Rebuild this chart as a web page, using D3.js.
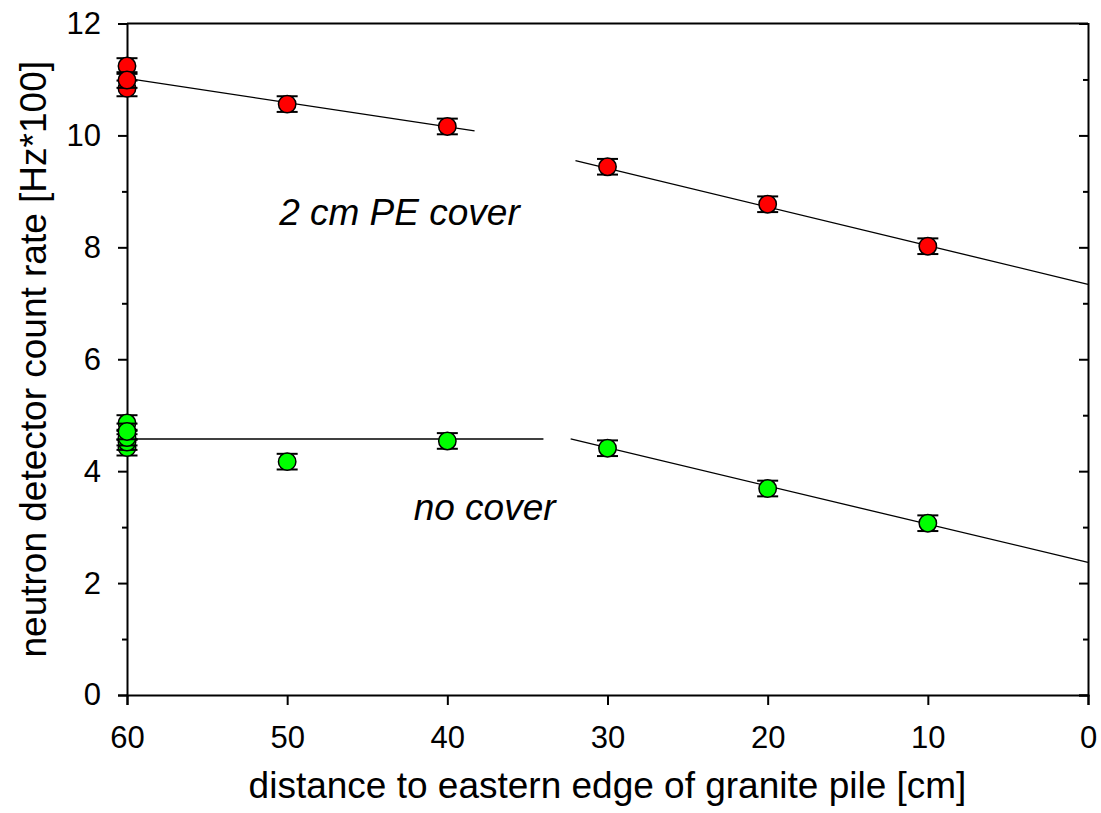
<!DOCTYPE html>
<html>
<head>
<meta charset="utf-8">
<script src="https://cdn.jsdelivr.net/npm/d3@7"></script>
<style>
  body { margin: 0; background: #fff; }
  text { font-family: "Liberation Sans", Arial, sans-serif; fill: #000; }
</style>
</head>
<body>
<script>
// PE covered detector (red)
var redDist = [60, 60, 60, 50, 40, 30, 20, 10];
var redRate = [11.24, 10.84, 10.99, 10.56, 10.16, 9.44, 8.77, 8.02];
var redErr = [0.14, 0.14, 0.14, 0.14, 0.14, 0.14, 0.14, 0.14];

// no cover (green)
var greenDist = [60, 60, 60, 60, 60, 50, 40, 30, 20, 10];
var greenRate = [4.86, 4.42, 4.52, 4.6, 4.71, 4.17, 4.54, 4.41, 3.69, 3.07];
var greenErr = [0.14, 0.14, 0.14, 0.14, 0.14, 0.14, 0.14, 0.14, 0.14, 0.14];

// fit segments: [x start, x end], [y start, y end]
var redFitX = [[60, 38.3], [32.0, 0]];
var redFitY = [[11.02, 10.08], [9.55, 7.34]];
var greenFitX = [[60, 34.0], [32.3, 0]];
var greenFitY = [[4.575, 4.575], [4.575, 2.37]];

var xTicks = [60, 50, 40, 30, 20, 10, 0];
var yTicks = [0, 2, 4, 6, 8, 10, 12];
var yMinor = [1, 3, 5, 7, 9, 11];

var w = 1101;
var h = 813;
var pLeft = 127, pRight = 1088, pTop = 23.5, pBottom = 695;

var x = d3.scaleLinear().domain([60, 0]).range([pLeft, pRight]);
var y = d3.scaleLinear().domain([0, 12]).range([pBottom, pTop]);

var svg = d3.select("body").append("svg")
  .attr("width", w)
  .attr("height", h);

// frame top
svg.append("line")
  .attr("x1", pLeft).attr("x2", pRight)
  .attr("y1", pTop).attr("y2", pTop)
  .attr("stroke", "#000").attr("stroke-width", 2);

// axes
var xAxis = d3.axisBottom(x).tickValues(xTicks).tickSize(10).tickPadding(21).tickFormat(d3.format("d"));
var gx = svg.append("g").attr("transform", "translate(0," + pBottom + ")").call(xAxis);

var yAxis = d3.axisLeft(y).tickValues(yTicks).tickSize(9).tickPadding(17).tickFormat(d3.format("d"));
var gy = svg.append("g").attr("transform", "translate(" + pLeft + ",0)").call(yAxis);

var gyMinor = svg.append("g").attr("transform", "translate(" + pLeft + ",0)")
  .call(d3.axisLeft(y).tickValues(yMinor).tickSize(5).tickFormat(""));

var gr = svg.append("g").attr("transform", "translate(" + pRight + ",0)")
  .call(d3.axisRight(y).tickValues(yTicks).tickSize(-9).tickFormat(""));
var grMinor = svg.append("g").attr("transform", "translate(" + pRight + ",0)")
  .call(d3.axisRight(y).tickValues(yMinor).tickSize(-5).tickFormat(""));

[gx, gy, gyMinor, gr, grMinor].forEach(function(g) {
  g.attr("font-family", null).attr("font-size", null);
  g.selectAll(".domain").attr("stroke", "#000").attr("stroke-width", 2);
  g.selectAll(".tick line").attr("stroke", "#000").attr("stroke-width", 2);
  g.selectAll(".tick text").style("font-size", "31px");
});
gyMinor.select(".domain").remove();
grMinor.select(".domain").remove();

// axis titles
svg.append("text")
  .attr("x", (pLeft + pRight) / 2)
  .attr("y", 798)
  .attr("text-anchor", "middle")
  .style("font-size", "37px")
  .text("distance to eastern edge of granite pile [cm]");

svg.append("text")
  .attr("transform", "translate(46," + (pTop + pBottom) / 2 + ") rotate(-90)")
  .attr("text-anchor", "middle")
  .style("font-size", "37px")
  .text("neutron detector count rate [Hz*100]");

// fit lines
function drawFits(fx, fy) {
  for (var k = 0; k < fx.length; k++) {
    svg.append("line")
      .attr("x1", x(fx[k][0])).attr("x2", x(fx[k][1]))
      .attr("y1", y(fy[k][0])).attr("y2", y(fy[k][1]))
      .attr("stroke", "#000").attr("stroke-width", 1.3);
  }
}
drawFits(redFitX, redFitY);
drawFits(greenFitX, greenFitY);

// points with error bars
function drawPoints(dist, rate, err, color) {
  var data = dist.map(function(d, i) { return { d: d, v: rate[i], e: err[i] }; });
  var g = svg.append("g").selectAll("g").data(data).enter().append("g");
  g.append("line")
    .attr("x1", function(p) { return x(p.d); }).attr("x2", function(p) { return x(p.d); })
    .attr("y1", function(p) { return y(p.v + p.e); }).attr("y2", function(p) { return y(p.v - p.e); })
    .attr("stroke", "#000").attr("stroke-width", 1.5);
  [1, -1].forEach(function(s) {
    g.append("line")
      .attr("x1", function(p) { return x(p.d) - 10.5; }).attr("x2", function(p) { return x(p.d) + 10.5; })
      .attr("y1", function(p) { return y(p.v + s * p.e); }).attr("y2", function(p) { return y(p.v + s * p.e); })
      .attr("stroke", "#000").attr("stroke-width", 2);
  });
  g.append("circle")
    .attr("cx", function(p) { return x(p.d); })
    .attr("cy", function(p) { return y(p.v); })
    .attr("r", 8.7)
    .attr("fill", color)
    .attr("stroke", "#000").attr("stroke-width", 1.5);
}
drawPoints(redDist, redRate, redErr, "#ff0000");
drawPoints(greenDist, greenRate, greenErr, "#00ff00");

// labels
svg.append("text")
  .attr("x", x(50.5)).attr("y", y(8.4))
  .style("font-size", "37px").style("font-style", "italic")
  .text("2 cm PE cover");

svg.append("text")
  .attr("x", x(42.1)).attr("y", y(3.13))
  .style("font-size", "37px").style("font-style", "italic")
  .text("no cover");
</script>
</body>
</html>
